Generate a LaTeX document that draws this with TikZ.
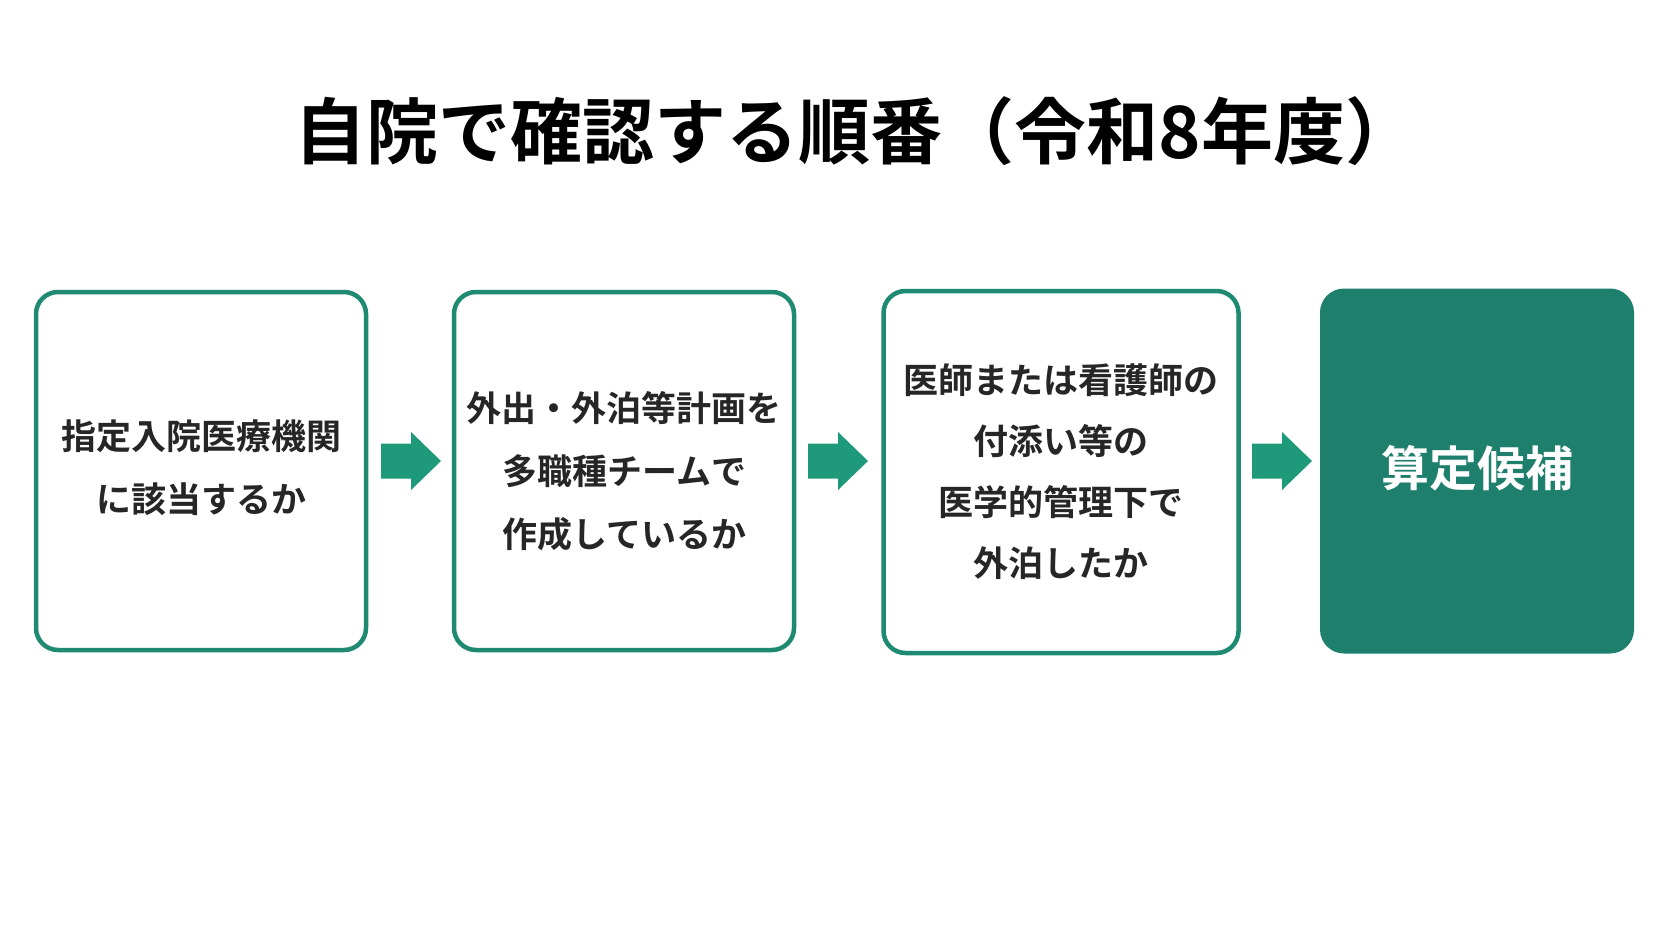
\documentclass[tikz,border=0pt]{standalone}
\usepackage{fontspec}
\setmainfont{Noto Sans CJK JP}[BoldFont=* Bold]
\definecolor{gborder}{HTML}{1F8A72}
\definecolor{gfill}{HTML}{1E7F6C}
\definecolor{garrow}{HTML}{1E9A7A}
\begin{document}
\begin{tikzpicture}[x=1pt,y=-1pt,
 box/.style={draw=gborder,line width=4.5pt,rounded corners=22pt,fill=white,align=center,font=\bfseries\fontsize{35}{63}\selectfont,text=black!85},
 arr/.style={fill=garrow}]
\useasboundingbox (0,0) rectangle (1672,941);
\fill[white] (0,0) rectangle (1672,941);
\node[font=\bfseries\fontsize{72}{80}\selectfont] (title) at (856,131) {自院で確認する順番（令和8年度）};
\node[box,minimum width=330pt,minimum height=358pt] (b1) at (201,471) {\raisebox{9pt}{指定入院医療機関}\\\raisebox{9pt}{に該当するか}};
\node[box,minimum width=340pt,minimum height=358pt] (b2) at (624,471) {外出・外泊等計画を\\多職種チームで\\作成しているか};
\node[box,minimum width=355pt,minimum height=362pt,font=\bfseries\fontsize{35}{61}\selectfont] (b3) at (1061,472) {医師または看護師の\\付添い等の\\医学的管理下で\\外泊したか};
\node[fill=gfill,rounded corners=24pt,minimum width=314pt,minimum height=365pt,text=white,font=\bfseries\fontsize{48}{56}\selectfont] (b4) at (1477,471) {\raisebox{11pt}{算定候補}};
\foreach \n/\x in {a1/381,a2/808,a3/1252}{
  \coordinate (\n) at (\x,461);
  \fill[arr] (\n) ++(0,-17.5) -- ++(30,0) -- ++(0,-11.5) -- ++(30,29) -- ++(-30,29) -- ++(0,-11.5) -- ++(-30,0) -- cycle;
}
\end{tikzpicture}
\end{document}
